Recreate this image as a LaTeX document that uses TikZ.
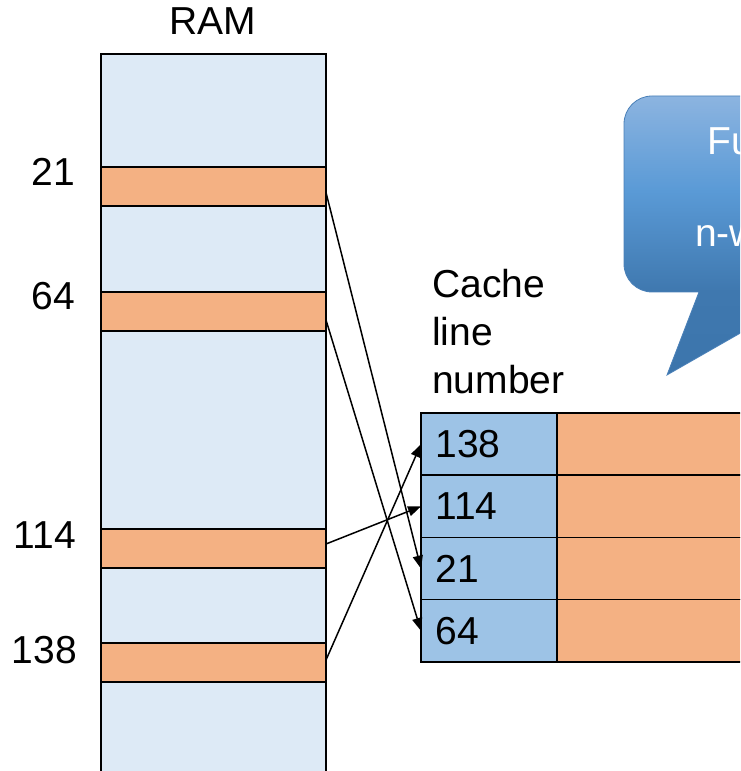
\documentclass[tikz,border=0pt]{standalone}
\usepackage{fontspec}
\setmainfont{Liberation Sans}
\usetikzlibrary{arrows.meta}
\definecolor{ramblue}{HTML}{DDEAF6}
\definecolor{bandorange}{HTML}{F4B183}
\definecolor{cacheblue}{HTML}{9DC3E6}
\definecolor{cLight}{HTML}{8CB4E0}
\definecolor{cMid}{HTML}{5A9AD6}
\definecolor{cLow}{HTML}{3F78AF}
\definecolor{cDark}{HTML}{3C75AC}
\definecolor{cEdge}{HTML}{4A80B8}
\pgfdeclareverticalshading{calloutshade}{100bp}{color(0bp)=(cDark); color(25bp)=(cDark); color(40bp)=(cLow); color(58bp)=(cMid); color(75bp)=(cLight); color(100bp)=(cLight)}
\begin{document}
\begin{tikzpicture}[x=1pt,y=1pt,
  font=\fontsize{39}{48}\selectfont,
  cellbox/.style={draw=black, line width=1.5pt, inner sep=0pt, outer sep=0pt, anchor=north west},
  ramband/.style={cellbox, fill=bandorange, minimum width=225pt, minimum height=39pt},
  linecell/.style={cellbox, fill=cacheblue, minimum width=136pt, minimum height=62.25pt,
     text width=107pt, align=left, inner xsep=14.5pt, inner ysep=0pt},
  datacell/.style={cellbox, fill=bandorange, minimum width=243pt, minimum height=62.25pt},
  maplink/.style={draw=black, line width=1.5pt, -{Triangle[length=13pt,width=10pt]}}
]
\useasboundingbox (0,0) rectangle (740,771);
\clip (0,0) rectangle (740,771);

% RAM column
\node[anchor=base] (ramlabel) at (213,736) {RAM};
\node[cellbox, fill=ramblue, minimum width=225pt, minimum height=740pt] (ram) at (101,717) {};
\node[ramband] (b21) at (101,604) {};
\node[ramband] (b64) at (101,479) {};
\node[ramband] (b114) at (101,242) {};
\node[ramband] (b138) at (101,128) {};

\node[anchor=base east, inner sep=0pt] (l21) at (75,585) {21};
\node[anchor=base east, inner sep=0pt] (l64) at (75,461) {64};
\node[anchor=base east, inner sep=0pt] (l114) at (76,222) {114};
\node[anchor=base east, inner sep=0pt] (l138) at (77,107) {138};

% Callout
\path[shading=calloutshade, draw=cEdge, line width=0.8pt]
  (667,396) -- (699,479) -- (652,479)
  arc[start angle=270, end angle=180, radius=28]
  -- (624,647)
  arc[start angle=180, end angle=90, radius=28]
  -- (800,675) -- (800,472) -- cycle;
\node[anchor=base west, inner sep=0pt, text=white] (co1) at (707,616) {Fu};
\node[anchor=base west, inner sep=0pt, text=white] (co2) at (695,524) {n-w};

% Cache
\node[anchor=north west, align=left, inner sep=0pt] (cachelabel) at (432,502) {Cache\\line\\number};

\node[linecell] (c138) at (421,358) {138};
\node[linecell] (c114) at (421,295.75) {114};
\node[linecell] (c21) at (421,233.5) {21};
\node[linecell] (c64) at (421,171.25) {64};
\node[datacell] (d1) at (557,358) {};
\node[datacell] (d2) at (557,295.75) {};
\node[datacell] (d3) at (557,233.5) {};
\node[datacell] (d4) at (557,171.25) {};

% Mapping arrows
\draw[maplink] ([yshift=-6pt]b21.east) -- (c21.west);
\draw[maplink] ([yshift=-8.5pt]b64.east) -- (c64.west);
\draw[maplink] ([yshift=4.5pt]b114.east) -- (c114.west);
\draw[maplink] ([yshift=2.5pt]b138.east) -- (c138.west);
\end{tikzpicture}
\end{document}
